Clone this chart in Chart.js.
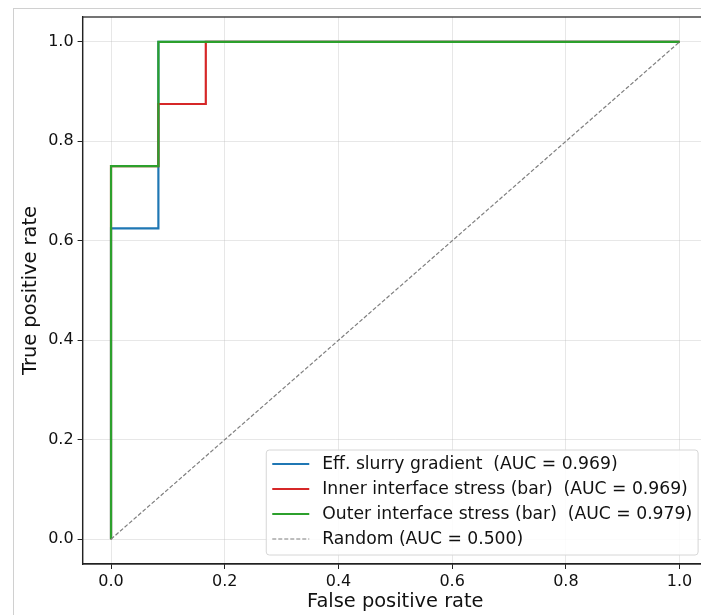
<!DOCTYPE html>
<html>
<head>
<meta charset="utf-8">
<script src="https://cdn.jsdelivr.net/npm/chart.js@4.4.1/dist/chart.umd.min.js"></script>
<style>
  html, body { margin: 0; padding: 0; background: #fff; overflow: hidden; }
  #wrap { position: relative; width: 701px; height: 615px; overflow: hidden; }
  #frame { position: absolute; left: 13px; top: 8px; width: 900px; height: 900px; border: 1px solid #d0d0d0; box-sizing: border-box; }
  #c { position: absolute; left: 0; top: 0; }
</style>
</head>
<body>
<div id="wrap">
  <div id="frame"></div>
  <canvas id="c" width="730" height="615"></canvas>
</div>
<script>
// ---- Data ----
const seriesLabels = [
  'Eff. slurry gradient  (AUC = 0.969)',
  'Inner interface stress (bar)  (AUC = 0.969)',
  'Outer interface stress (bar)  (AUC = 0.979)',
  'Random (AUC = 0.500)'
];
const blueFpr  = [0, 0, 0.0833, 0.0833, 1];
const blueTpr  = [0, 0.625, 0.625, 1, 1];
const redFpr   = [0, 0, 0.0833, 0.0833, 0.1667, 0.1667, 1];
const redTpr   = [0, 0.75, 0.75, 0.875, 0.875, 1, 1];
const greenFpr = [0, 0, 0.0833, 0.0833, 1];
const greenTpr = [0, 0.75, 0.75, 1, 1];
const randFpr  = [0, 1];
const randTpr  = [0, 1];
const xTicks = [0, 0.2, 0.4, 0.6, 0.8, 1.0];
const yTicks = [0, 0.2, 0.4, 0.6, 0.8, 1.0];

function pts(xs, ys) { return xs.map((x, i) => ({ x: x, y: ys[i] })); }

Chart.defaults.font.family = "'DejaVu Sans', sans-serif";
Chart.defaults.color = '#111';

const legendPlugin = {
  id: 'innerLegend',
  afterDraw(chart) {
    const ctx = chart.ctx;
    const ca = chart.chartArea;
    ctx.save();
    ctx.strokeStyle = '#222';
    ctx.lineWidth = 1.25;
    ctx.strokeRect(ca.left, ca.top, ca.right - ca.left, ca.bottom - ca.top);
    ctx.restore();

    const fontSize = 17.2;
    const rowH = 25;
    const dsets = chart.data.datasets;
    ctx.save();
    ctx.font = fontSize + "px 'DejaVu Sans'";
    let maxW = 0;
    dsets.forEach(d => { maxW = Math.max(maxW, ctx.measureText(d.label).width); });
    const handleLen = 37, gap = 13, padX = 6;
    const boxW = padX + handleLen + gap + maxW + 6;
    const boxH = 105;
    const boxRight = ca.left + 615.5;
    const boxBottom = ca.bottom - 9;
    const bx = boxRight - boxW, by = boxBottom - boxH;
    ctx.beginPath();
    ctx.roundRect(bx, by, boxW, boxH, 3);
    ctx.fillStyle = 'rgba(255,255,255,0.85)';
    ctx.fill();
    ctx.strokeStyle = '#d6d6d6';
    ctx.lineWidth = 1;
    ctx.stroke();
    dsets.forEach((d, i) => {
      const cy = by + 14 + rowH * i;
      ctx.beginPath();
      ctx.setLineDash(d.borderDash || []);
      ctx.strokeStyle = d.borderColor;
      ctx.lineWidth = d.borderWidth;
      ctx.moveTo(bx + padX, cy);
      ctx.lineTo(bx + padX + handleLen, cy);
      ctx.stroke();
      ctx.setLineDash([]);
      ctx.fillStyle = '#111';
      ctx.textBaseline = 'middle';
      ctx.textAlign = 'left';
      ctx.fillText(d.label, bx + padX + handleLen + gap, cy + 1);
    });
    ctx.restore();
  }
};

new Chart(document.getElementById('c'), {
  type: 'scatter',
  data: {
    datasets: [
      { label: seriesLabels[0], data: pts(blueFpr, blueTpr), borderColor: '#1f77b4', borderWidth: 2.2, order: 3 },
      { label: seriesLabels[1], data: pts(redFpr, redTpr), borderColor: '#d62728', borderWidth: 2.2, order: 2 },
      { label: seriesLabels[2], data: pts(greenFpr, greenTpr), borderColor: '#2ca02c', borderWidth: 2.2, order: 1 },
      { label: seriesLabels[3], data: pts(randFpr, randTpr), borderColor: '#7f7f7f', borderWidth: 1.2, borderDash: [4, 2], order: 0 }
    ].map(d => Object.assign(d, { showLine: true, pointRadius: 0, pointHoverRadius: 0, fill: false, tension: 0, backgroundColor: d.borderColor }))
  },
  options: {
    responsive: false,
    animation: false,
    devicePixelRatio: 1,
    layout: { padding: { top: 17, right: 22, left: 0, bottom: 0 } },
    plugins: { legend: { display: false }, tooltip: { enabled: false } },
    scales: {
      x: {
        type: 'linear', min: -0.05, max: 1.05,
        afterBuildTicks: s => { s.ticks = xTicks.map(v => ({ value: v })); },
        afterFit: s => { s.height = 51; },
        ticks: { callback: v => v.toFixed(1), font: { size: 16 }, padding: 3, maxRotation: 0, color: '#111' },
        grid: { color: 'rgba(176,176,176,0.3)', tickColor: '#222', tickLength: 5, lineWidth: 1 },
        border: { display: true, color: '#222', width: 1.25 },
        title: { display: true, text: 'False positive rate', font: { size: 19.4 }, color: '#111', padding: { top: 0, bottom: 1.5 } }
      },
      y: {
        type: 'linear', min: -0.05, max: 1.05,
        afterBuildTicks: s => { s.ticks = yTicks.map(v => ({ value: v })); },
        afterFit: s => { s.width = 82.6; },
        ticks: { callback: v => v.toFixed(1), font: { size: 16 }, padding: 4, color: '#111' },
        grid: { color: 'rgba(176,176,176,0.3)', tickColor: '#222', tickLength: 5, lineWidth: 1 },
        border: { display: true, color: '#222', width: 1.25 },
        title: { display: true, text: 'True positive rate', font: { size: 19.4 }, color: '#111', padding: { top: 19.5, bottom: 0 } }
      }
    }
  },
  plugins: [legendPlugin]
});
</script>
</body>
</html>
